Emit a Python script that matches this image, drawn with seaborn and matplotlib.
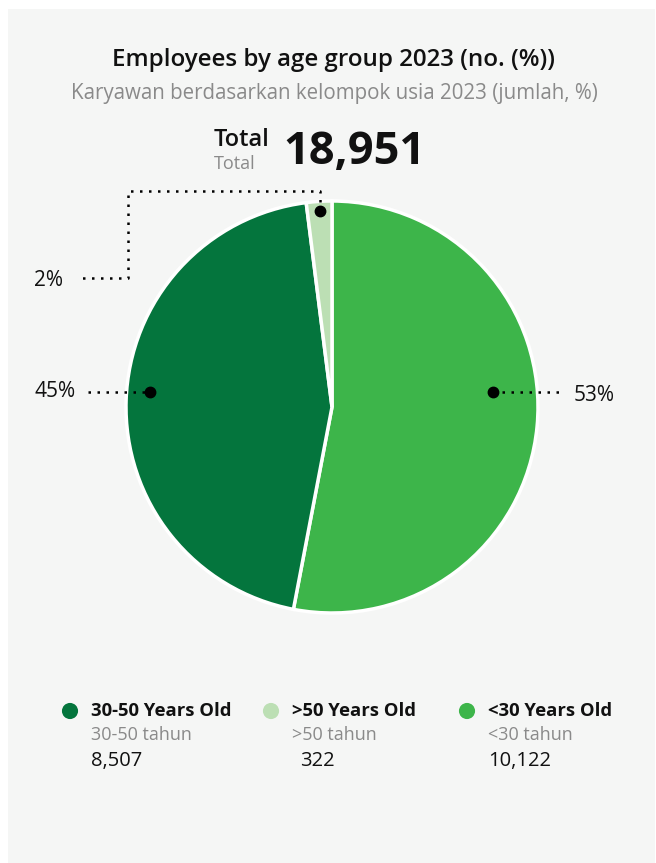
import numpy as np
import pandas as pd
import matplotlib
matplotlib.use("Agg")
import matplotlib.pyplot as plt
import seaborn as sns

# datos del grafico
grupos = ["<30 Years Old", "30-50 Years Old", ">50 Years Old"]
grupos_id = ["<30 tahun", "30-50 tahun", ">50 tahun"]
empleados = [10122, 8507, 322]
porcentajes = [53, 45, 2]
colores = ["#3db54a", "#04753d", "#bcdfb4"]
total = "18,951"

# orden de la leyenda
orden_leyenda = [1, 2, 0]

sns.set_theme(style="white")
plt.rcParams["font.family"] = ["Open Sans", "DejaVu Sans"]

W, H = 656, 863
fig = plt.figure(figsize=(W / 100, H / 100), dpi=100, facecolor="white")

# panel de fondo y capa de texto en pixeles
capa = fig.add_axes([0, 0, 1, 1])
capa.set_xlim(0, W)
capa.set_ylim(H, 0)
capa.axis("off")
capa.add_patch(plt.Rectangle((8, 9), W - 9, H - 9, facecolor="#f5f6f5", edgecolor="none"))

capa.text(334, 60, "Employees by age group 2023 (no. (%))", ha="center", va="center",
          fontsize=17.4, fontweight="semibold", color="#111111")
capa.text(334, 94, "Karyawan berdasarkan kelompok usia 2023 (jumlah, %)", ha="center", va="center",
          fontsize=14.8, color="#8a8a8a")
capa.text(214, 140, "Total", ha="left", va="center", fontsize=17, fontweight="semibold", color="#111111")
capa.text(214, 164, "Total", ha="left", va="center", fontsize=13, color="#8a8a8a")
capa.text(283, 153, total, ha="left", va="center", fontsize=32.5, fontweight="bold", color="#111111")

# pastel
cx, cy, r = 332, 407, 206
ax = fig.add_axes([(cx - r) / W, (H - cy - r) / H, 2 * r / W, 2 * r / H])
wedges, _ = ax.pie(porcentajes, colors=colores, startangle=90, counterclock=False,
                   wedgeprops=dict(edgecolor="white", linewidth=2.5))
ax.set_xlim(-1, 1)
ax.set_ylim(-1, 1)
ax.set_aspect("equal")
ax.axis("off")

estilo = dict(color="black", linestyle=(0, (1, 2.6)), linewidth=1.8,
              dash_capstyle="butt", clip_on=False)
etiq = dict(va="center", fontsize=15, color="#111111")

# etiquetas laterales (53%, 45%)
y_lab = 0.073
ax.plot([0.78, 1.13], [y_lab, y_lab], **estilo)
ax.plot(0.78, y_lab, "o", color="black", markersize=7.5, clip_on=False)
ax.text(1.175, y_lab - 0.018, f"{porcentajes[0]}%", ha="left", **etiq)

ax.plot([-1.184, -0.883], [y_lab, y_lab], **estilo)
ax.plot(-0.883, y_lab, "o", color="black", markersize=7.5, clip_on=False)
ax.text(-1.243, y_lab, f"{porcentajes[1]}%", ha="right", **etiq)

# etiqueta del segmento chico (2%)
w = wedges[2]
ang = np.deg2rad((w.theta1 + w.theta2) / 2)
px, py = 0.955 * np.cos(ang), 0.955 * np.sin(ang)
ax.plot([px, px, -0.99, -0.99, -1.223], [py, 1.05, 1.05, 0.626, 0.626], **estilo)
ax.plot(px, py, "o", color="black", markersize=7.5, clip_on=False)
ax.text(-1.306, 0.615, f"{porcentajes[2]}%", ha="right", **etiq)

# leyenda
ley_x = [70, 271, 467]
ley = pd.DataFrame({"x": ley_x, "y": [711] * 3, "g": [grupos[k] for k in orden_leyenda]})
sns.scatterplot(data=ley, x="x", y="y", hue="g", palette=[colores[k] for k in orden_leyenda],
                s=135, linewidth=0, legend=False, ax=capa)
capa.set_xlim(0, W)
capa.set_ylim(H, 0)
capa.axis("off")
for j, k in enumerate(orden_leyenda):
    x0 = ley_x[j] + 21
    capa.text(x0, 711, grupos[k], ha="left", va="center", fontsize=13.3, fontweight="bold", color="#111111")
    capa.text(x0, 735, grupos_id[k], ha="left", va="center", fontsize=13, color="#8a8a8a")
    capa.text(x0 + (8 if k == 2 else 0), 761, f"{empleados[k]:,}", ha="left", va="center",
              fontsize=14.5, color="#111111")

plt.savefig("out.png", dpi=100)
